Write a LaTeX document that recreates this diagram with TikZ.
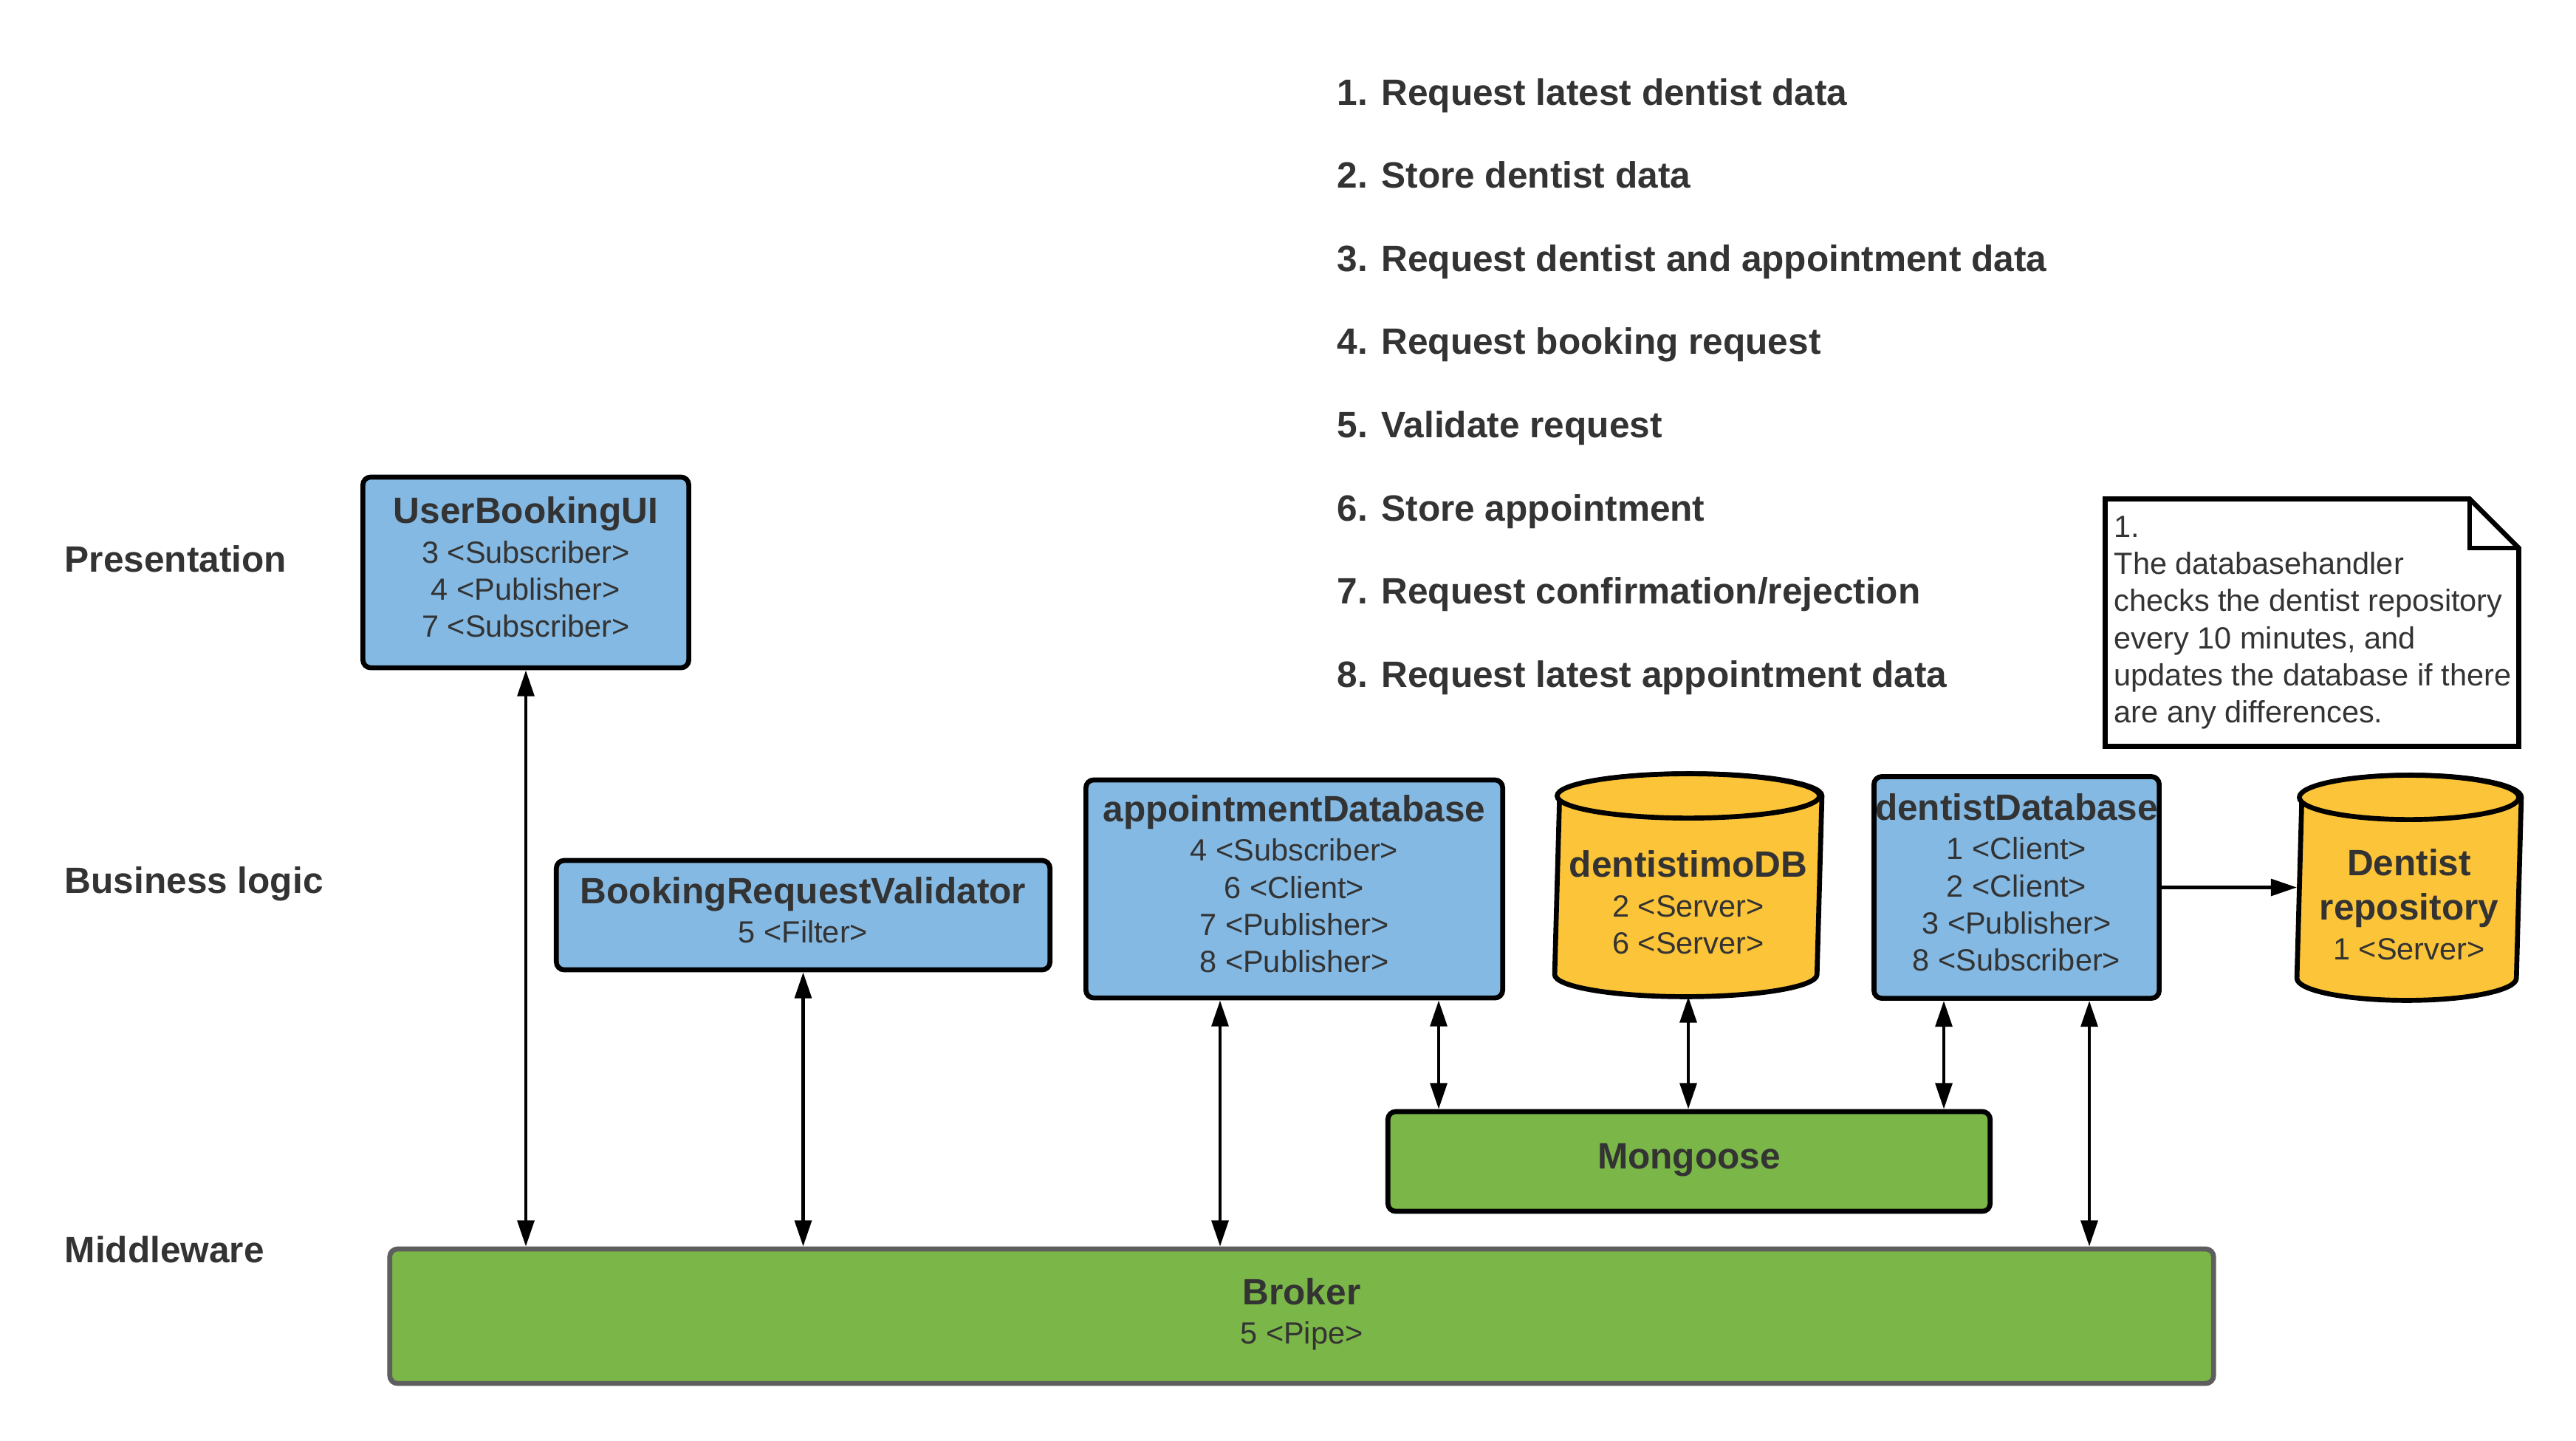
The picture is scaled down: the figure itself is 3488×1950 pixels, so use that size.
\documentclass[tikz,border=0pt]{standalone}
\usepackage{fontspec}
\setmainfont{Liberation Sans}
\usetikzlibrary{arrows.meta,backgrounds}
\definecolor{ctext}{HTML}{333333}
\definecolor{cblue}{HTML}{84B9E3}
\definecolor{cgreen}{HTML}{7AB648}
\definecolor{cyellow}{HTML}{FCC438}
\definecolor{cgray}{HTML}{5E5E5E}
\newcommand{\mytitle}{\fontsize{14.1}{17}\selectfont\bfseries}
\newcommand{\mybody}{\fontsize{11.8}{14.3}\selectfont}
\newcommand{\lastdp}{\rule[-4pt]{0pt}{4pt}}
\begin{document}
\begin{tikzpicture}[x=0.01cm,y=-0.01cm,
  every node/.style={text=ctext, inner sep=0pt},
  comp/.style={draw=black, line width=1.9pt, rounded corners=3pt, align=center, font=\mybody},
  bluebox/.style={comp, fill=cblue},
  greenbox/.style={comp, fill=cgreen},
  dbnode/.style={align=center, font=\mybody, outer sep=0.95pt},
  cyl/.style={draw=black, line width=1.9pt, fill=cyellow},
  dbl/.style={line width=1.3pt, {Triangle[length=10pt,width=6.4pt]}-{Triangle[length=10pt,width=6.4pt]}},
  sgl/.style={line width=1.3pt, -{Triangle[length=10pt,width=6.4pt]}},
  layer/.style={font=\mytitle, anchor=base west},
  item/.style={font=\mytitle, anchor=base west},
]
\useasboundingbox (0,0) rectangle (3488,1950);

% layer labels
\node[layer] (lp) at (87,774) {Presentation};
\node[layer] (lb) at (87,1209) {Business logic};
\node[layer] (lm) at (87,1709) {Middleware};

% numbered list
\node[item] (i1) at (1810,142.0) {1. Request latest dentist data};
\node[item] (i2) at (1810,254.6) {2. Store dentist data};
\node[item] (i3) at (1810,367.2) {3. Request dentist and appointment data};
\node[item] (i4) at (1810,479.8) {4. Request booking request};
\node[item] (i5) at (1810,592.4) {5. Validate request};
\node[item] (i6) at (1810,705.0) {6. Store appointment};
\node[item] (i7) at (1810,817.6) {7. Request confirmation/rejection};
\node[item] (i8) at (1810,930.2) {8. Request latest appointment data};

% components
\node[bluebox, minimum width=4.41cm, minimum height=2.58cm] (ubui) at (712,775)
  {{\mytitle UserBookingUI}\\[0.9pt]3 <Subscriber>\\4 <Publisher>\\7 <Subscriber>\lastdp};
\node[bluebox, minimum width=6.68cm, minimum height=1.48cm] (brv) at (1087.5,1239)
  {{\mytitle BookingRequestValidator}\\[0.9pt]5 <Filter>\lastdp};
\node[bluebox, minimum width=5.64cm, minimum height=2.95cm] (apdb) at (1752.5,1203.5)
  {{\mytitle appointmentDatabase}\\[0.9pt]4 <Subscriber>\\6 <Client>\\7 <Publisher>\\8 <Publisher>\lastdp};
\node[bluebox, minimum width=3.86cm, minimum height=3.00cm] (dtdb) at (2730.5,1201.5)
  {{\mytitle dentistDatabase}\\[0.9pt]1 <Client>\\2 <Client>\\3 <Publisher>\\8 <Subscriber>\lastdp};
\node[greenbox, minimum width=8.15cm, minimum height=1.35cm] (mongoose) at (2287,1572.5)
  {\mytitle Mongoose\lastdp};
\node[greenbox, draw=cgray, minimum width=24.68cm, minimum height=1.82cm] (broker) at (1762.5,1782)
  {{\mytitle Broker}\\[0.9pt]5 <Pipe>\lastdp};

% databases (cylinders)
\node[dbnode, minimum width=3.55cm, minimum height=2.35cm] (dmdb) at (2286,1228.5)
  {{\mytitle dentistimoDB}\\[0.9pt]2 <Server>\\6 <Server>\lastdp};
\node[dbnode, minimum width=2.97cm, minimum height=2.38cm] (repo) at (3262,1232)
  {{\mytitle Dentist}\\[2.7pt]{\mytitle repository}\\[1.1pt]1 <Server>\lastdp};
\begin{scope}[on background layer]
  \draw[cyl] ([yshift=0.30cm]dmdb.south west) arc[start angle=180,end angle=360,x radius=1.775cm,y radius=0.30cm]
    -- ([yshift=0.30cm]dmdb.north east) arc[start angle=0,end angle=180,x radius=1.775cm,y radius=0.30cm] -- cycle;
  \draw[cyl] ([yshift=0.30cm]dmdb.north) ellipse[x radius=1.775cm,y radius=0.30cm];
  \draw[cyl] ([yshift=0.30cm]repo.south west) arc[start angle=180,end angle=360,x radius=1.485cm,y radius=0.30cm]
    -- ([yshift=0.30cm]repo.north east) arc[start angle=0,end angle=180,x radius=1.485cm,y radius=0.30cm] -- cycle;
  \draw[cyl] ([yshift=0.30cm]repo.north) ellipse[x radius=1.485cm,y radius=0.30cm];
\end{scope}

% note
\draw[line width=1.9pt, fill=white] (2850.5,675.5) -- (3344,675.5) -- (3410.5,742) -- (3410.5,1010.5) -- (2850.5,1010.5) -- cycle;
\draw[line width=1.9pt] (3344,675.5) -- (3344,742) -- (3410.5,742);
\node[anchor=north west, align=left, font=\mybody] (note) at (2862,698)
  {1.\\The databasehandler\\checks the dentist repository\\every 10 minutes, and\\updates the database if there\\are any differences.};

% connectors
\coordinate (xa) at (1652,0);
\coordinate (xb) at (1948,0);
\coordinate (xc) at (2632,0);
\coordinate (xd) at (2829,0);
\draw[dbl] (ubui.south) -- (ubui.south |- broker.north);
\draw[dbl] (brv.south) -- (brv.south |- broker.north);
\draw[dbl] (apdb.south -| xa) -- (broker.north -| xa);
\draw[dbl] (apdb.south -| xb) -- (mongoose.north -| xb);
\draw[dbl] (dmdb.south) -- (dmdb.south |- mongoose.north);
\draw[dbl] (dtdb.south -| xc) -- (mongoose.north -| xc);
\draw[dbl] (dtdb.south -| xd) -- (broker.north -| xd);
\draw[sgl] (dtdb.east) -- (dtdb.east -| repo.west);
\end{tikzpicture}
\end{document}
